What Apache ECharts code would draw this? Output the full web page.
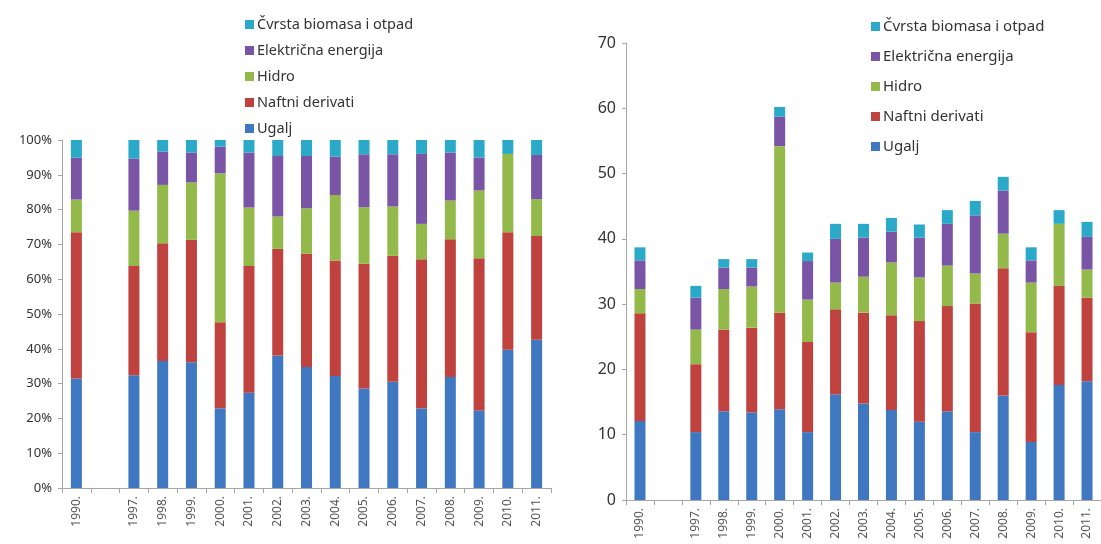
<!DOCTYPE html>
<html><head><meta charset="utf-8">
<script src="https://cdn.jsdelivr.net/npm/echarts@6/dist/echarts.min.js"></script>
<style>html,body{margin:0;padding:0;background:#fff}#c{width:1101px;height:544px}</style>
</head><body><div id="c"></div>
<script>
const categories = ['1990.', '', '1997.', '1998.', '1999.', '2000.', '2001.', '2002.', '2003.', '2004.', '2005.', '2006.', '2007.', '2008.', '2009.', '2010.', '2011.'];
const seriesNames = ['Ugalj', 'Naftni derivati', 'Hidro', 'Električna energija', 'Čvrsta biomasa i otpad'];
const legendOrder = ['Čvrsta biomasa i otpad', 'Električna energija', 'Hidro', 'Naftni derivati', 'Ugalj'];
const colors = ['#3f78c0', '#c0423f', '#93b94a', '#7b55a5', '#2aa9c8'];

// Left panel: shares (%)
const pctUgalj    = [31.5, null, 32.4, 36.5, 36.1, 22.9, 27.4, 38.1, 34.8, 32.2, 28.6, 30.5, 22.9, 31.9, 22.3, 39.7, 42.6];
const pctNaftni   = [42.0, null, 31.4, 33.8, 35.2, 24.7, 36.4, 30.6, 32.5, 33.2, 35.8, 36.2, 42.8, 39.6, 43.7, 33.8, 29.8];
const pctHidro    = [9.4, null, 15.9, 16.8, 16.5, 42.8, 16.8, 9.3, 13.1, 18.8, 16.3, 14.2, 10.2, 11.1, 19.5, 22.5, 10.6];
const pctElektr   = [12.0, null, 15.0, 9.6, 8.6, 7.7, 15.8, 17.4, 15.0, 11.0, 15.2, 15.0, 20.1, 13.8, 9.5, 0, 12.7];
const pctCvrsta   = [5.1, null, 5.3, 3.3, 3.6, 1.9, 3.6, 4.6, 4.6, 4.8, 4.1, 4.1, 4.0, 3.6, 5.0, 4.0, 4.3];

// Right panel: absolute values
const absUgalj    = [12.1, null, 10.4, 13.6, 13.4, 13.9, 10.4, 16.2, 14.8, 13.8, 12.0, 13.6, 10.4, 16.0, 8.9, 17.6, 18.2];
const absNaftni   = [16.5, null, 10.4, 12.5, 13.0, 14.8, 13.8, 13.0, 13.9, 14.5, 15.4, 16.1, 19.7, 19.5, 16.8, 15.2, 12.8];
const absHidro    = [3.7, null, 5.3, 6.2, 6.3, 25.5, 6.5, 4.1, 5.5, 8.1, 6.7, 6.2, 4.6, 5.3, 7.6, 9.5, 4.3];
const absElektr   = [4.4, null, 4.9, 3.3, 2.9, 4.5, 5.9, 6.7, 6.0, 4.7, 6.1, 6.4, 8.9, 6.6, 3.4, 0, 5.0];
const absCvrsta   = [2.0, null, 1.8, 1.3, 1.3, 1.5, 1.3, 2.3, 2.1, 2.1, 2.0, 2.1, 2.2, 2.1, 2.0, 2.1, 2.3];

const pctTicks = [0, 10, 20, 30, 40, 50, 60, 70, 80, 90, 100];
const absTicks = [0, 10, 20, 30, 40, 50, 60, 70];

const leftData = [pctUgalj, pctNaftni, pctHidro, pctElektr, pctCvrsta];
const rightData = [absUgalj, absNaftni, absHidro, absElektr, absCvrsta];

const font = 'Noto Sans';
const axisLineColor = '#a6a6a6';

function xAxis(gridIndex) {
  return {
    type: 'category', gridIndex, data: categories,
    axisLine: {lineStyle: {color: axisLineColor, width: 1}},
    axisTick: {show: true, alignWithLabel: false, length: 5, lineStyle: {color: axisLineColor}},
    axisLabel: {rotate: 90, interval: 0, margin: 8, fontFamily: font, fontSize: 12, color: '#555'},
    splitLine: {show: false}
  };
}
function yAxis(gridIndex, ticks, fmt, fontSize) {
  const max = ticks[ticks.length - 1];
  return {
    type: 'value', gridIndex, min: ticks[0], max, interval: ticks[1] - ticks[0],
    axisLine: {show: true, lineStyle: {color: axisLineColor, width: 1}},
    axisTick: {show: true, length: 4, lineStyle: {color: axisLineColor}},
    axisLabel: {formatter: fmt, fontFamily: font, fontSize, color: '#333', margin: 10},
    splitLine: {show: false}
  };
}

const series = [];
seriesNames.forEach((name, i) => {
  series.push({
    name, type: 'bar', stack: 'left', xAxisIndex: 0, yAxisIndex: 0,
    data: leftData[i], barWidth: 11, itemStyle: {color: colors[i]}
  });
});
seriesNames.forEach((name, i) => {
  series.push({
    name, type: 'bar', stack: 'right', xAxisIndex: 1, yAxisIndex: 1,
    data: rightData[i], barWidth: 11, itemStyle: {color: colors[i]}
  });
});

function legend(left, top, gap, size) {
  return {
    orient: 'vertical', data: legendOrder, icon: 'rect',
    left, top, itemGap: gap,
    itemWidth: 9, itemHeight: 9,
    textStyle: {fontFamily: font, fontSize: size, color: '#333', padding: [0, 0, 0, -2]},
    selectedMode: false
  };
}

const chart = echarts.init(document.getElementById('c'), null, {renderer: 'canvas'});
chart.setOption({
  animation: false,
  backgroundColor: '#fff',
  grid: [
    {left: 62, width: 489, top: 140, height: 348},
    {left: 626, width: 483.5, top: 43, height: 457}
  ],
  legend: [
    legend(240, 12, 11, 14.5),
    legend(866, 14, 15, 15)
  ],
  xAxis: [xAxis(0), xAxis(1)],
  yAxis: [
    yAxis(0, pctTicks, v => v + '%', 13),
    yAxis(1, absTicks, v => String(v), 16)
  ],
  series
});
</script></body></html>
